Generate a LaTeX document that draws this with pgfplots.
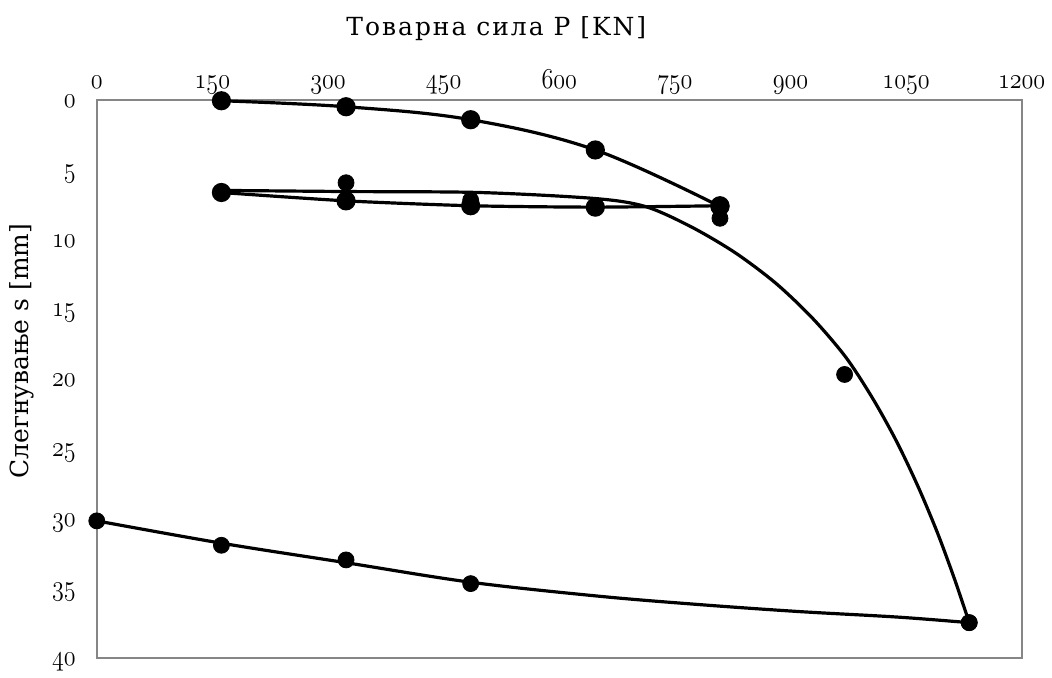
\documentclass[border=0pt]{standalone}
\usepackage{fontspec}
\setmainfont{DejaVu Serif}
\usepackage{graphicx}
\usepackage{pgfplots}
\pgfplotsset{compat=1.18}
\definecolor{framegray}{RGB}{134,134,134}
% old-style figures from the math italic font, slightly condensed
\newcommand{\osn}[1]{\scalebox{0.84}[1]{$\mathnormal{#1}$}}
\begin{document}
\begin{tikzpicture}
\begin{axis}[
  scale only axis,
  width=463.5pt, height=279.5pt,
  xmin=0, xmax=1200, ymin=0, ymax=40,
  y dir=reverse,
  clip=false,
  axis line style={framegray, line width=1pt},
  major tick length=0pt,
  xtick={0,150,...,1200},
  xticklabels={\osn{0},\osn{150},\osn{300},\osn{450},\osn{600},\osn{750},\osn{900},\osn{1050},\osn{1200}},
  ytick={0,5,...,40},
  yticklabels={\osn{0},\osn{5},\osn{10},\osn{15},\osn{20},\osn{25},\osn{30},\osn{35},\osn{40}},
  xticklabel pos=upper,
  tick label style={font=\fontsize{14.5}{16}\selectfont},
  xticklabel style={anchor=base, yshift=5.5pt},
  yticklabel style={anchor=base east, xshift=-7pt, yshift=-4pt},
  xlabel={\addfontfeature{LetterSpace=8}Товарна сила P [KN]},
  xlabel style={font=\fontsize{12.5}{14}\selectfont, at={(axis description cs:0.432,1)}, anchor=base, yshift=32pt},
]
% first loading
\addplot[black, line width=1.6pt, smooth, tension=0.6, mark=*, mark size=4pt]
  coordinates {(161.7,0.07) (323.4,0.5) (485.1,1.43) (646.8,3.6) (808.5,7.65)};
% first unloading
\addplot[black, line width=1.6pt, smooth, tension=0.4, mark=*, mark size=4pt]
  coordinates {(808.5,7.6) (646.8,7.7) (485.1,7.6) (323.4,7.25) (161.7,6.65)};
% reloading: fitted curve
\addplot[black, line width=1.6pt, smooth, tension=0.5]
  coordinates {(161.7,6.5) (322,6.58) (496,6.65) (646,7.08) (712,7.66) (771.1,9.11)
   (828,10.96) (881,13.16) (929,15.69) (972,18.48) (1007,21.45)
   (1038,24.54) (1066,27.8) (1091,31.1) (1113,34.4) (1131.9,37.5)};
% reloading: measured points
\addplot[only marks, black, mark=*, mark size=4pt]
  coordinates {(161.7,6.6) (323.4,5.95) (485.1,7.2) (485.1,7.45) (808.5,8.5) (970.2,19.7) (1131.9,37.5)};
% final unloading: fitted curve
\addplot[black, line width=1.6pt, smooth, tension=0.55]
  coordinates {(1131.9,37.5) (1039,37.1) (910,36.7) (781,36.2) (651,35.6) (485.1,34.6) (323.4,33.2) (161.7,31.8) (0,30.2)};
% final unloading: measured points
\addplot[only marks, black, mark=*, mark size=4pt]
  coordinates {(1131.9,37.5) (485.1,34.7) (323.4,33.0) (161.7,31.95) (0,30.2)};
\end{axis}
\node[rotate=90, font=\fontsize{12.5}{14}\selectfont] at ([xshift=-37.5pt, yshift=13.75pt]current axis.west) {Слегнување s [mm]};
\path ([xshift=-48.5pt,yshift=-4.5pt]current axis.south west) rectangle ([xshift=14pt,yshift=50pt]current axis.north east);
\end{tikzpicture}
\end{document}
